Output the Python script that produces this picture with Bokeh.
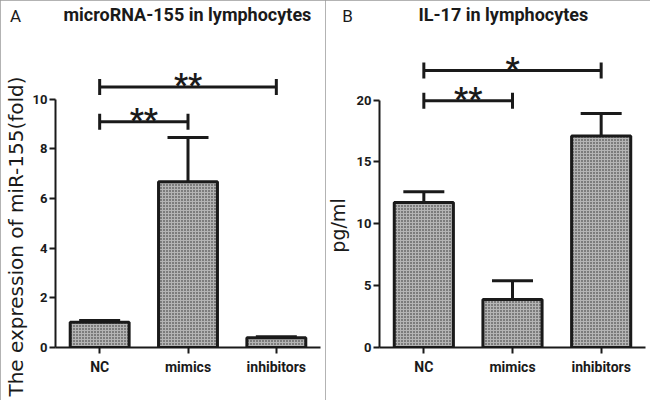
import math
from bokeh.plotting import figure
from bokeh.models import (ColumnDataSource, FactorRange, Range1d, Whisker, TeeHead,
                          Label, FixedTicker)
from bokeh.layouts import row
from bokeh.embed import file_html
from bokeh.resources import INLINE
from bokeh.core.properties import value

# ---------------- data ----------------
categories = ["NC", "mimics", "inhibitors"]

mir155_mean = [1.02, 6.68, 0.39]
mir155_err = [0.07, 1.78, 0.04]
mir155_ticks = [0, 2, 4, 6, 8, 10]
mir155_sig_from = ["NC", "NC"]
mir155_sig_to = ["mimics", "inhibitors"]
mir155_sig_y = [9.1, 10.5]
mir155_sig_text = ["**", "**"]

il17_mean = [11.72, 3.88, 17.11]
il17_err = [0.87, 1.51, 1.81]
il17_ticks = [0, 5, 10, 15, 20]
il17_sig_from = ["NC", "NC"]
il17_sig_to = ["mimics", "inhibitors"]
il17_sig_y = [19.95, 22.4]
il17_sig_text = ["**", "*"]

INK = "#1a1a1a"
NARROW = "Roboto"


def make_panel(letter, title, title_offset, ylabel, ylabel_size, means, errs,
               ticks, y_end, sig_from, sig_to, sig_y, sig_text,
               border_left, border_right, border_bottom,
               letter_x, letter_y, ylab_x, ylab_y):
    p = figure(x_range=FactorRange(*categories, range_padding=0),
               y_range=Range1d(0, y_end),
               width=325, height=400, output_backend="svg",
               toolbar_location=None,
               min_border_left=border_left, min_border_right=border_right,
               min_border_top=44, min_border_bottom=border_bottom)
    p.title.text = title
    p.title.align = "left"
    p.title.offset = title_offset
    p.title.text_font = NARROW
    p.title.text_font_size = "18px"
    p.title.text_font_style = "bold"
    p.title.text_color = INK
    p.title.standoff = 0
    p.background_fill_color = "white"
    p.border_fill_color = "white"
    p.outline_line_color = None
    p.xgrid.grid_line_color = None
    p.ygrid.grid_line_color = None
    p.styles = {"outline": "1px solid #9a9a9a", "outline-offset": "-1px"}

    src = ColumnDataSource(dict(x=categories, top=means,
                                upper=[m + e for m, e in zip(means, errs)]))
    p.vbar(x="x", top="top", bottom=0, width=0.667, source=src,
           fill_color="#b4b4b4", line_color=INK, line_width=3,
           hatch_pattern="dot", hatch_color="#262626", hatch_scale=3,
           hatch_weight=1.5)
    w = Whisker(base="x", lower="top", upper="upper", source=src,
                dimension="height", line_color=INK, line_width=3,
                upper_head=TeeHead(size=41, line_color=INK, line_width=3),
                lower_head=None, level="glyph")
    p.add_layout(w)

    # significance brackets
    idx = {c: i for i, c in enumerate(categories)}
    bsrc = ColumnDataSource(dict(
        y=sig_y, x0=sig_from, x1=sig_to, text=sig_text,
        mid=[(idx[a] + idx[b]) / 2 + 0.5 for a, b in zip(sig_from, sig_to)]))
    br = Whisker(base="y", lower="x0", upper="x1", source=bsrc,
                 dimension="width", line_color=INK, line_width=3,
                 upper_head=TeeHead(size=16, line_color=INK, line_width=3),
                 lower_head=TeeHead(size=16, line_color=INK, line_width=3),
                 level="glyph")
    p.add_layout(br)
    p.text(x="mid", y="y", text="text", source=bsrc,
           text_font=value(NARROW), text_font_style="bold",
           text_font_size="31px", text_color=INK, text_align="center",
           text_baseline="alphabetic", y_offset=-2)

    # axes
    p.yaxis.bounds = (ticks[0], ticks[-1])
    p.yaxis.ticker = FixedTicker(ticks=ticks)
    for ax in (p.xaxis, p.yaxis):
        ax.axis_line_color = INK
        ax.axis_line_width = 2
        ax.major_tick_line_color = INK
        ax.major_tick_line_width = 2
        ax.major_tick_out = 6
        ax.major_tick_in = 0
        ax.minor_tick_out = 0
        ax.minor_tick_in = 0
        ax.major_label_text_font = NARROW
        ax.major_label_text_font_style = "bold"
        ax.major_label_text_color = INK
    p.yaxis.major_label_text_font_size = "13px"
    p.yaxis.major_label_standoff = 2
    p.xaxis.major_label_text_font_size = "14px"
    p.xaxis.major_label_standoff = 5

    p.add_layout(Label(x=letter_x, y=letter_y, x_units="screen", y_units="screen",
                       text=letter, text_font=NARROW, text_font_size="17px",
                       text_color=INK, text_align="center",
                       text_baseline="alphabetic"), "above")
    p.add_layout(Label(x=ylab_x, y=ylab_y, x_units="screen", y_units="screen",
                       text=ylabel, text_font="DejaVu Sans",
                       text_font_size=ylabel_size, text_color=INK,
                       text_align="center", text_baseline="middle",
                       angle=math.pi / 2), "left")
    return p


pa = make_panel("A", "microRNA-155 in lymphocytes", 8,
                "The expression of miR-155(fold)", "20px",
                mir155_mean, mir155_err, mir155_ticks, 12.21,
                mir155_sig_from, mir155_sig_to, mir155_sig_y, mir155_sig_text,
                border_left=55, border_right=5, border_bottom=52,
                letter_x=-40, letter_y=29, ylab_x=10, ylab_y=111)

pb = make_panel("B", "IL-17 in lymphocytes", 39, "pg/ml", "19px",
                il17_mean, il17_err, il17_ticks, 24.5,
                il17_sig_from, il17_sig_to, il17_sig_y, il17_sig_text,
                border_left=54, border_right=5, border_bottom=53,
                letter_x=-32, letter_y=29, ylab_x=6, ylab_y=122)

layout = row(pa, pb)
open("out.html", "w").write(file_html(layout, INLINE))
